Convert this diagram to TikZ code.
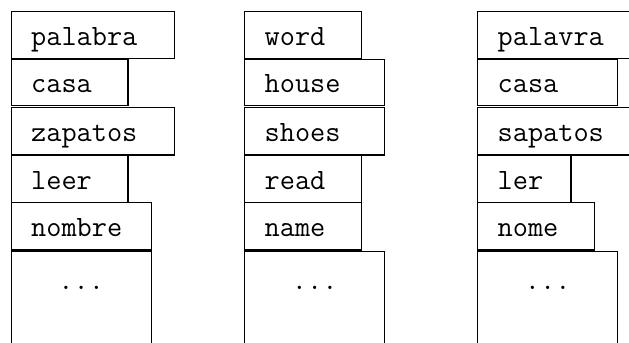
\documentclass[tikz,border=0pt]{standalone}
\usepackage{fontspec}
\usepackage{tikz}
\usetikzlibrary{positioning,calc}

\begin{document}
\begin{tikzpicture}[
    x=0.75pt, y=-0.75pt,
    cell/.style={draw, line width=1pt, anchor=north west, font=\ttfamily\fontsize{22.1pt}{26pt}\selectfont,
        inner xsep=15pt, text width=#1*17.5pt-30pt, align=left,
        minimum height=35.6pt, text height=15.75pt, text depth=0pt},
    more/.style={align=center, minimum height=90pt, text depth=48.75pt}
]
    \path[use as bounding box, clip] (0,0) rectangle (629,343);

    % first column
    \node[cell=7] (es1) at (10.5,10.5) {palabra};
    \node[cell=5, minimum height=34.5pt] (es2) at (10.5,58.5) {casa};
    \node[cell=7] (es3) at (10.5,107) {zapatos};
    \node[cell=5] (es4) at (10.5,154.5) {leer};
    \node[cell=6] (es5) at (10.5,202) {nombre};
    \node[cell=6, more] (es6) at (10.5,251) {...};

    % second column
    \node[cell=5] (en1) at (244,10.5) {word};
    \node[cell=6, minimum height=34.5pt] (en2) at (244,58.5) {house};
    \node[cell=6] (en3) at (244,107) {shoes};
    \node[cell=5] (en4) at (244,154.5) {read};
    \node[cell=5] (en5) at (244,202) {name};
    \node[cell=6, more] (en6) at (244,251) {...};

    % third column
    \node[cell=7] (pt1) at (477,10.5) {palavra};
    \node[cell=6, minimum height=34.5pt] (pt2) at (477,58.5) {casa};
    \node[cell=7] (pt3) at (477,107) {sapatos};
    \node[cell=4] (pt4) at (477,154.5) {ler};
    \node[cell=5] (pt5) at (477,202) {nome};
    \node[cell=6, more] (pt6) at (477,251) {...};

    \draw[line width=1pt] ([xshift=8.85pt]pt2.north east) -- ([xshift=8.85pt]pt2.north east |- pt3.north);
\end{tikzpicture}
\end{document}
